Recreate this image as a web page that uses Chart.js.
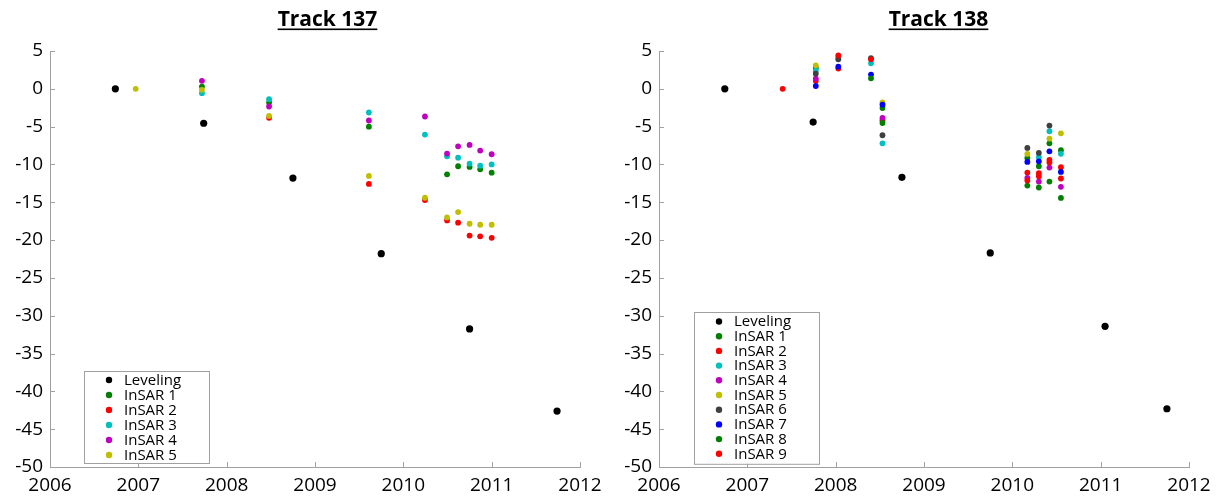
<!DOCTYPE html>
<html>
<head>
<meta charset="utf-8">
<script src="https://cdn.jsdelivr.net/npm/chart.js@4/dist/chart.umd.min.js"></script>
<style>
  html, body { margin: 0; padding: 0; background: #fff; }
  body { width: 1225px; height: 500px; position: relative; overflow: hidden; }
  canvas { position: absolute; top: 0; }
  #c137 { left: 0; }
  #c138 { left: 609px; }
</style>
</head>
<body>
<canvas id="c137" width="612" height="500"></canvas>
<canvas id="c138" width="616" height="500"></canvas>
<script>
// Axis ticks shared by both panels
const yearTicks = [2006, 2007, 2008, 2009, 2010, 2011, 2012];
const valueTicks = [5, 0, -5, -10, -15, -20, -25, -30, -35, -40, -45, -50];

// ---- Track 137 ----
const levDates137 = [2006.74, 2007.74, 2008.75, 2009.75, 2010.75, 2011.74];
const leveling137 = [0, -4.55, -11.8, -21.8, -31.75, -42.6];

const dates137 = [2006.97, 2007.72, 2008.48, 2009.61, 2010.245, 2010.495, 2010.62, 2010.75, 2010.87, 2011.0];
const insar137_1 = [null, 0.3, -1.8, -5.0, null, -11.3, -10.24, -10.33, -10.64, -11.09];
const insar137_2 = [null, null, -3.84, -12.58, -14.7, -17.4, -17.7, -19.4, -19.5, -19.7];
const insar137_3 = [null, -0.57, -1.37, -3.13, -6.05, -8.92, -9.1, -9.9, -10.16, -10.0];
const insar137_4 = [null, 1.06, -2.34, -4.19, -3.66, -8.56, -7.6, -7.42, -8.17, -8.65];
const insar137_5 = [0, -0.13, -3.58, -11.52, -14.4, -17.0, -16.3, -17.84, -17.97, -17.97];

// ---- Track 138 ----
const levDates138 = [2006.745, 2007.745, 2008.75, 2009.75, 2011.05, 2011.75];
const leveling138 = [0, -4.4, -11.7, -21.7, -31.4, -42.3];

const dates138 = [2007.40, 2007.775, 2008.03, 2008.40, 2008.53, 2010.17, 2010.30, 2010.42, 2010.55];
const insar138_1 = [null, 2.75, null, null, -2.54, -9.14, -10.24, -7.2, -8.12];
const insar138_2 = [0, 1.08, 2.67, null, -4.16, -11.07, -11.16, -9.4, -10.37];
const insar138_3 = [null, 2.4, 4.16, 3.37, -7.2, null, -9.05, -5.61, -8.6];
const insar138_4 = [null, 1.35, null, null, -3.86, -11.78, -12.26, -10.41, -12.96];
const insar138_5 = [null, 3.1, null, null, -1.8, -8.61, null, -6.58, -5.88];
const insar138_6 = [null, 2.0, 3.9, 4.07, -6.14, -7.82, -8.48, -4.86, null];
const insar138_7 = [null, 0.37, 2.93, 1.88, -2.09, -9.67, -9.58, -8.26, -10.99];
const insar138_8 = [null, null, null, 1.39, -4.52, -12.79, -13.05, -12.26, -14.42];
const insar138_9 = [null, null, 4.42, 3.9, null, -12.13, -11.56, -9.75, -11.86];

const seriesColors = ['#008000', '#ff0000', '#00bfbf', '#bf00bf', '#bfbf00', '#404040', '#0000ff', '#008000', '#ff0000'];
const FONT = '"Open Sans", "Noto Sans", "DejaVu Sans", sans-serif';
const AXIS_GRAY = '#a0a0a0';

function toPoints(xs, ys) {
  const pts = [];
  xs.forEach((x, i) => { if (ys[i] !== null) pts.push({ x: x, y: ys[i] }); });
  return pts;
}

function buildDatasets(levDates, lev, dates, series) {
  const sets = [{
    label: 'Leveling',
    data: toPoints(levDates, lev),
    backgroundColor: '#000', borderColor: '#000',
    pointRadius: 3.6, borderWidth: 0, order: 0
  }];
  series.forEach((vals, i) => {
    sets.push({
      label: 'InSAR ' + (i + 1),
      data: toPoints(dates, vals),
      backgroundColor: seriesColors[i], borderColor: seriesColors[i],
      pointRadius: 2.9, borderWidth: 0,
      order: series.length - i   // later series painted on top
    });
  });
  return sets;
}

// Title, inward tick marks and boxed legend drawn on top of the plot
const panelDecor = {
  id: 'panelDecor',
  afterDraw(chart, args, opts) {
    const ctx = chart.ctx;
    const area = chart.chartArea;
    const xs = chart.scales.x, ys = chart.scales.y;
    ctx.save();

    // inward tick marks
    ctx.strokeStyle = AXIS_GRAY;
    ctx.lineWidth = 1;
    ctx.beginPath();
    xs.ticks.forEach(t => {
      const px = Math.round(xs.getPixelForValue(t.value)) + 0.5;
      ctx.moveTo(px, area.bottom);
      ctx.lineTo(px, area.bottom - 5);
    });
    ys.ticks.forEach(t => {
      const py = Math.round(ys.getPixelForValue(t.value)) + 0.5;
      ctx.moveTo(area.left, py);
      ctx.lineTo(area.left + 5, py);
    });
    ctx.stroke();

    // underlined bold title
    ctx.font = 'bold 21px ' + FONT;
    ctx.fillStyle = '#000';
    ctx.textAlign = 'center';
    ctx.textBaseline = 'alphabetic';
    ctx.fillText(opts.title, opts.titleX, 26);
    const w = ctx.measureText(opts.title).width;
    ctx.fillRect(opts.titleX - w / 2, 28.5, w, 1.6);

    // legend box
    const L = opts.legend;
    const sets = chart.data.datasets;
    const bx = area.left + L.dx, by = L.top;
    const bh = L.padTop + (sets.length - 1) * L.rowH + L.padBottom;
    ctx.fillStyle = '#fff';
    ctx.fillRect(bx, by, L.width, bh);
    ctx.strokeStyle = AXIS_GRAY;
    ctx.strokeRect(bx + 0.5, by + 0.5, L.width, bh);
    ctx.font = '15px ' + FONT;
    ctx.textAlign = 'left';
    ctx.textBaseline = 'middle';
    sets.forEach((ds, i) => {
      const cy = by + L.padTop + i * L.rowH;
      ctx.fillStyle = ds.backgroundColor;
      ctx.beginPath();
      ctx.arc(bx + 25, cy, 3.2, 0, Math.PI * 2);
      ctx.fill();
      ctx.fillStyle = '#000';
      ctx.fillText(ds.label, bx + 40, cy + 0.5);
    });
    ctx.restore();
  }
};

function makeChart(id, datasets, padRight, decor) {
  return new Chart(document.getElementById(id), {
    type: 'scatter',
    data: { datasets: datasets },
    plugins: [panelDecor],
    options: {
      responsive: false,
      animation: false,
      devicePixelRatio: 1,
      layout: { padding: { top: 51, right: padRight, left: 0, bottom: 0 } },
      plugins: {
        legend: { display: false },
        tooltip: { enabled: false },
        panelDecor: decor
      },
      scales: {
        x: {
          type: 'linear', min: 2006, max: 2012,
          afterBuildTicks: s => { s.ticks = yearTicks.map(v => ({ value: v })); },
          afterFit: s => { s.height = 33; },
          ticks: { color: '#000', font: { family: FONT, size: 19 }, padding: 7, maxRotation: 0,
                   callback: v => String(v) },
          grid: { drawOnChartArea: false, drawTicks: false },
          border: { color: AXIS_GRAY, width: 1 }
        },
        y: {
          type: 'linear', min: -50, max: 5,
          afterBuildTicks: s => { s.ticks = valueTicks.map(v => ({ value: v })); },
          afterFit: s => { s.width = 50; },
          ticks: { color: '#000', font: { family: FONT, size: 19 }, padding: 7,
                   callback: v => String(v) },
          grid: { drawOnChartArea: false, drawTicks: false },
          border: { color: AXIS_GRAY, width: 1 }
        }
      }
    }
  });
}

makeChart('c137',
  buildDatasets(levDates137, leveling137, dates137,
    [insar137_1, insar137_2, insar137_3, insar137_4, insar137_5]),
  32,
  { title: 'Track 137', titleX: 327.5,
    legend: { dx: 34, top: 371, width: 125, rowH: 15, padTop: 9, padBottom: 8 } });

makeChart('c138',
  buildDatasets(levDates138, leveling138, dates138,
    [insar138_1, insar138_2, insar138_3, insar138_4, insar138_5,
     insar138_6, insar138_7, insar138_8, insar138_9]),
  36,
  { title: 'Track 138', titleX: 329.5,
    legend: { dx: 35, top: 312, width: 125, rowH: 14.7, padTop: 9.5, padBottom: 10 } });
</script>
</body>
</html>
